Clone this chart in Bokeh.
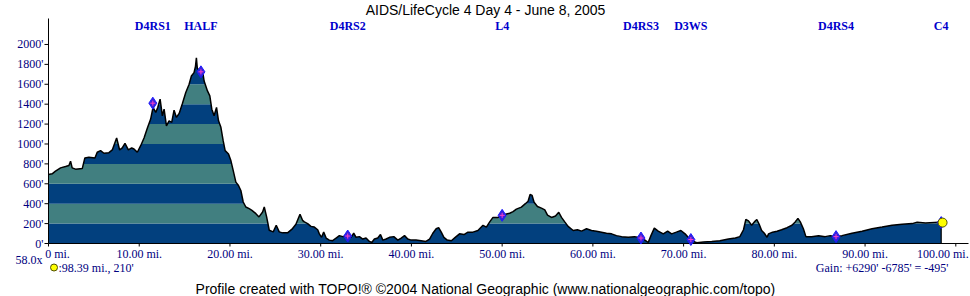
from bokeh.plotting import figure
from bokeh.models import Range1d
from bokeh.embed import file_html
from bokeh.resources import INLINE
from bokeh.core.properties import value

# ---------------- data ----------------
TITLE = "AIDS/LifeCycle 4 Day 4 - June 8, 2005"

MILES = [0.0, 0.4, 0.77, 1.33, 1.88, 2.25, 2.43, 2.61, 2.98, 3.72, 4.01, 4.45, 5.12, 5.37, 5.74,
         6.11, 6.66, 7.03, 7.51, 7.84, 8.13, 8.43, 8.80, 9.17, 9.42, 9.79, 10.16, 10.53, 10.90,
         11.26, 11.52, 11.82, 12.04, 12.30, 12.55, 12.74, 13.0, 13.29, 13.58, 13.84, 14.1, 14.4,
         14.76, 15.13, 15.5, 15.75, 16.04, 16.2, 16.3, 16.4, 16.53, 16.78, 17.04, 17.15, 17.52,
         17.78, 18.0, 18.25, 18.52, 18.74, 19.0, 19.25, 19.47, 19.84, 20.1, 20.36, 20.65, 20.94,
         21.2, 21.46, 21.75, 22.12, 22.42, 22.86, 23.2, 23.6, 23.78, 24.04, 24.33, 24.77, 25.1,
         25.43, 25.8, 26.35, 26.9, 27.27, 27.72, 28.0, 28.2, 28.56, 28.93, 29.3, 29.67, 29.85,
         30.1, 30.33, 30.6, 30.95, 31.32, 31.7, 32.06, 32.43, 32.98, 33.35, 33.64, 33.9, 34.27,
         34.64, 35.0, 35.37, 35.63, 35.92, 36.29, 36.59, 36.85, 37.21, 37.58, 38.06, 38.5, 38.87,
         39.24, 39.6, 39.97, 40.5, 41.07, 41.6, 42.0, 42.36, 42.73, 43.0, 43.29, 43.58, 43.95,
         44.4, 44.83, 45.3, 45.79, 46.23, 46.78, 47.33, 47.89, 48.26, 48.63, 48.99, 49.55, 50.0,
         50.47, 50.83, 51.2, 51.57, 52.12, 52.56, 52.86, 53.08, 53.3, 53.52, 53.89, 54.33, 54.7,
         55.0, 55.44, 55.88, 56.24, 56.54, 56.9, 57.27, 57.83, 58.3, 58.75, 59.3, 59.85, 60.4,
         60.95, 61.5, 62.06, 62.6, 63.17, 63.9, 64.6, 65.3, 65.74, 66.1, 66.4, 66.77, 67.2,
         67.76, 68.24, 68.68, 69.2, 69.7, 70.16, 70.5, 70.8, 71.08, 71.45, 72.18, 73.1, 74.0,
         74.94, 75.7, 76.2, 76.6, 76.86, 77.15, 77.5, 77.8, 78.07, 78.33, 78.6, 78.9, 79.2,
         79.36, 79.8, 80.3, 80.8, 81.4, 81.94, 82.3, 82.6, 82.86, 83.2, 83.48, 84.1, 84.88,
         85.6, 86.17, 86.8, 87.45, 88.56, 89.67, 90.77, 91.88, 92.98, 94.08, 95.2, 95.74, 96.66,
         98.14, 98.39]

ELEV = [693, 700, 727, 760, 773, 783, 827, 760, 747, 753, 860, 867, 860, 917, 933,
        907, 913, 940, 1060, 940, 960, 1007, 940, 960, 950, 917, 983, 1060, 1160,
        1250, 1367, 1317, 1367, 1450, 1283, 1350, 1183, 1233, 1217, 1340, 1267, 1307,
        1407, 1517, 1600, 1683, 1717, 1780, 1867, 1760, 1750, 1733, 1700, 1633, 1533,
        1483, 1350, 1283, 1367, 1233, 1167, 1033, 933, 900, 833, 733, 617, 583,
        533, 417, 367, 350, 333, 300, 267, 317, 367, 267, 133, 117, 183,
        117, 107, 107, 150, 193, 293, 233, 217, 200, 172, 165, 138, 97,
        62, 114, 55, 34, 28, 55, 79, 69, 79, 62, 103, 62, 69,
        45, 55, 21, 10, 45, 55, 90, 34, 45, 62, 69, 34, 55,
        79, 45, 34, 34, 28, 21, 45, 103, 148, 159, 114, 62, 34,
        28, 62, 97, 90, 114, 114, 131, 183, 165, 217, 262, 262, 283,
        297, 304, 321, 345, 366, 400, 424, 493, 483, 414, 372, 355, 338,
        286, 262, 276, 314, 262, 217, 172, 131, 138, 124, 148, 131, 124,
        114, 103, 97, 79, 69, 62, 69, 55, 34, 10, 79, 155, 124,
        97, 124, 97, 114, 131, 97, 62, 38, 21, 7, 14, 21, 28,
        45, 55, 69, 138, 241, 228, 183, 217, 241, 193, 131, 103, 62,
        97, 114, 124, 138, 159, 183, 217, 252, 217, 148, 69, 69, 79,
        69, 79, 69, 79, 103, 124, 148, 165, 183, 193, 200, 214, 207,
        214, 210]

WP_NAMES = ["D4RS1", "HALF", "D4RS2", "L4", "D4RS3", "D3WS", "D4RS4", "C4"]
WP_MILES = [11.5, 16.8, 32.98, 50.0, 65.3, 70.8, 86.8, 98.39]
WP_ELEV = [1410, 1725, 75, 283, 55, 40, 69, 210]

X_TICKS = [0, 10, 20, 30, 40, 50, 60, 70, 80, 90, 100]
X_TICK_LABELS = ["0 mi.", "10.00 mi.", "20.00 mi.", "30.00 mi.", "40.00 mi.", "50.00 mi.",
                 "60.00 mi.", "70.00 mi.", "80.00 mi.", "90.00 mi.", "100.00 mi."]
Y_TICKS = [0, 200, 400, 600, 800, 1000, 1200, 1400, 1600, 1800, 2000]
Y_TICK_LABELS = ["0'", "200'", "400'", "600'", "800'", "1000'", "1200'", "1400'", "1600'",
                 "1800'", "2000'"]
BAND_EDGES = [0, 200, 400, 600, 800, 1000, 1200, 1400, 1600, 1800, 2000, 2200]

SCALE_TEXT = "58.0x"
END_TEXT = ":98.39 mi., 210'"
GAIN_TEXT = "Gain: +6290' -6785' = -495'"
CREDIT = "Profile created with TOPO!\u00ae \u00a92004 National Geographic (www.nationalgeographic.com/topo)"

# ---------------- layout (pixel geometry of the profile area) ----------------
W, H = 970, 296
L, R, T, B = 48, 2, 18, 53          # profile area inside the canvas
X_MAX = 101.4                       # miles at right edge of profile area
Y_MAX = 2261                        # feet at top edge of profile area

DARK = "#02407e"
TEAL = "#417f80"
NAVY = "#000080"


def sx(px):
    return (px - L) * X_MAX / (W - L - R)


def sy(py):
    return (H - B - py) * Y_MAX / (H - B - T)


# the frame spans the whole canvas; the axes are drawn as glyphs in data space
p = figure(width=W, height=H, x_range=Range1d(sx(0), sx(W)), y_range=Range1d(sy(H), sy(0)),
           output_backend="svg", toolbar_location=None,
           x_axis_location=None, y_axis_location=None, min_border=0)
p.title.visible = False
p.outline_line_color = None
p.xgrid.visible = False
p.ygrid.visible = False
p.background_fill_color = "white"
p.border_fill_color = "white"

# elevation bands, masked above the profile
end_mile = MILES[-1]
n_bands = len(BAND_EDGES) - 1
p.quad(left=[0] * n_bands, right=[end_mile] * n_bands,
       bottom=BAND_EDGES[:-1], top=BAND_EDGES[1:],
       fill_color=[DARK if i % 2 == 0 else TEAL for i in range(n_bands)], line_color=None)
mask_x = MILES + [end_mile + 1.0]
mask_y = ELEV + [0]
p.varea(x=mask_x, y1=mask_y, y2=[Y_MAX] * len(mask_x), fill_color="white")
p.line(MILES, ELEV, line_color="black", line_width=1.5)
p.segment(x0=[end_mile], y0=[0], x1=[end_mile], y1=[ELEV[-1]], line_color="black", line_width=1.2)

# axes
p.segment(x0=[0], y0=[0], x1=[sx(W - R)], y1=[0], line_color="black", line_width=1)
p.segment(x0=[0], y0=[0], x1=[0], y1=[Y_MAX], line_color="black", line_width=1)
p.segment(x0=X_TICKS, y0=[0] * len(X_TICKS), x1=X_TICKS, y1=[sy(H - B + 3)] * len(X_TICKS),
          line_color="black", line_width=1)
p.segment(x0=[0] * len(Y_TICKS), y0=Y_TICKS, x1=[sx(L - 4)] * len(Y_TICKS), y1=Y_TICKS,
          line_color="black", line_width=1)
# first label sits to the right of the axis, last one is pulled in from the window edge
x_label_shift = [9 if i == 0 else (-13 if i == len(X_TICKS) - 1 else 0)
                 for i in range(len(X_TICKS))]
p.text(x=X_TICKS, y=[sy(H - B + 3)] * len(X_TICKS), text=X_TICK_LABELS,
       x_offset=x_label_shift,
       text_font=value("Liberation Serif"), text_font_size="12px", text_color=NAVY,
       text_align="center", text_baseline="top")
p.text(x=[sx(L - 5)] * len(Y_TICKS), y=Y_TICKS, text=Y_TICK_LABELS,
       text_font=value("Liberation Serif"), text_font_size="12px", text_color=NAVY,
       text_align="right", text_baseline="middle")

# waypoints
p.scatter(WP_MILES, WP_ELEV, marker="diamond", size=12, fill_color="#3a22d8",
          line_color="#1a1aff", line_width=1)
p.scatter(WP_MILES[:-1], WP_ELEV[:-1], marker="cross", size=5, line_color="#ff3fc8", line_width=1)
p.scatter([end_mile + 0.15], [ELEV[-1]], marker="circle", size=9, fill_color="#ffff00",
          line_color="#505000", line_width=1)

p.text(x=WP_MILES, y=[sy(25)] * len(WP_MILES), text=WP_NAMES,
       text_font=value("Liberation Serif"), text_font_style="bold", text_font_size="12px",
       text_color="#0000cc", text_align="center", text_baseline="middle")

# texts around the profile
p.text(x=[sx(485)], y=[sy(9)], text=[TITLE], text_font=value("Liberation Sans"),
       text_font_size="14px", text_color="black", text_align="center", text_baseline="middle")
p.text(x=[sx(42)], y=[sy(259)], text=[SCALE_TEXT], text_font=value("Liberation Serif"),
       text_font_size="12px", text_color=NAVY, text_align="right", text_baseline="middle")
p.scatter([sx(53.5)], [sy(267)], marker="circle", size=7, fill_color="#ffff00",
          line_color="#505000", line_width=1)
p.text(x=[sx(58)], y=[sy(267)], text=[END_TEXT], text_font=value("Liberation Serif"),
       text_font_size="12px", text_color=NAVY, text_align="left", text_baseline="middle")
p.text(x=[sx(948)], y=[sy(267)], text=[GAIN_TEXT], text_font=value("Liberation Serif"),
       text_font_size="12px", text_color=NAVY, text_align="right", text_baseline="middle")
p.text(x=[sx(485)], y=[sy(288)], text=[CREDIT], text_font=value("Liberation Sans"),
       text_font_size="14px", text_color="black", text_align="center", text_baseline="middle")

open("out.html", "w").write(file_html(p, INLINE))
